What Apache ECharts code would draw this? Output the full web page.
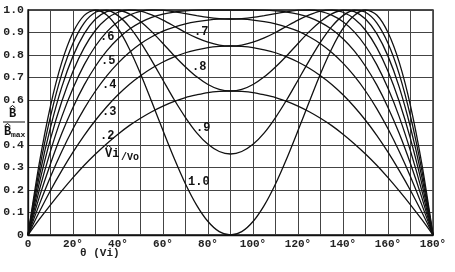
<!DOCTYPE html>
<html>
<head>
<meta charset="utf-8">
<script src="https://cdn.jsdelivr.net/npm/echarts@6/dist/echarts.min.js"></script>
<style>
html,body{margin:0;padding:0;background:#fff;}
#c{width:455px;height:272px;}
</style>
</head>
<body>
<div id="c"></div>
<script>
// theta in degrees (V_i phase)
var thetas = [0,5,10,15,20,25,30,35,40,45,50,55,60,65,70,75,80,85,90,95,100,105,110,115,120,125,130,135,140,145,150,155,160,165,170,175,180];
// B / Bmax for each Vi/Vo ratio
var k02 = [0,.069,.134,.196,.255,.310,.360,.406,.448,.486,.519,.548,.573,.594,.611,.623,.633,.638,.640,.638,.633,.623,.611,.594,.573,.548,.519,.486,.448,.406,.360,.310,.255,.196,.134,.069,0];
var k03 = [0,.102,.198,.286,.368,.443,.510,.570,.623,.669,.708,.741,.769,.792,.810,.823,.833,.838,.840,.838,.833,.823,.810,.792,.769,.741,.708,.669,.623,.570,.510,.443,.368,.286,.198,.102,0];
var k04 = [0,.135,.259,.371,.472,.562,.640,.707,.764,.811,.850,.881,.906,.924,.938,.948,.955,.959,.960,.959,.955,.948,.938,.924,.906,.881,.850,.811,.764,.707,.640,.562,.472,.371,.259,.135,0];
var k05 = [0,.167,.317,.451,.567,.667,.750,.818,.872,.914,.945,.967,.982,.991,.996,.999,1,1,1,1,1,.999,.996,.991,.982,.967,.945,.914,.872,.818,.750,.667,.567,.451,.317,.167,0];
var k06 = [0,.198,.373,.525,.652,.757,.840,.903,.948,.977,.994,1,.999,.992,.984,.975,.967,.962,.960,.962,.967,.975,.984,.992,.999,1,.994,.977,.948,.903,.840,.757,.652,.525,.373,.198,0];
var k07 = [0,.229,.427,.593,.728,.833,.910,.961,.990,1,.995,.978,.955,.928,.900,.876,.857,.844,.840,.844,.857,.876,.900,.928,.955,.978,.995,1,.990,.961,.910,.833,.728,.593,.427,.229,0];
var k08 = [0,.260,.478,.657,.795,.895,.960,.993,.999,.983,.949,.904,.851,.797,.747,.703,.669,.647,.640,.647,.669,.703,.747,.797,.851,.904,.949,.983,.999,.993,.960,.895,.795,.657,.478,.260,0];
var k09 = [0,.289,.527,.715,.852,.943,.990,.999,.975,.926,.857,.775,.688,.601,.522,.454,.403,.371,.360,.371,.403,.454,.522,.601,.688,.775,.857,.926,.975,.999,.990,.943,.852,.715,.527,.289,0];
var k10 = [0,.318,.574,.767,.900,.976,1,.978,.918,.828,.717,.592,.464,.340,.227,.132,.060,.015,0,.015,.060,.132,.227,.340,.464,.592,.717,.828,.918,.976,1,.978,.900,.767,.574,.318,0];
var ratios = ['.2','.3','.4','.5','.6','.7','.8','.9','1.0'];
var curves = [k02,k03,k04,k05,k06,k07,k08,k09,k10];
var yTickLabels = {0:'0',0.1:'0.1',0.2:'0.2',0.3:'0.3',0.4:'0.4',0.5:'',0.6:'0.6',0.7:'0.7',0.8:'0.8',0.9:'0.9',1:'1.0'};

var chart = echarts.init(document.getElementById('c'), null, {renderer:'canvas'});
var mono = 'Liberation Mono';
var series = curves.map(function(vals, i){
  return {
    name: ratios[i], type:'line', smooth:0.3, symbol:'none', clip:true,
    lineStyle:{color:'#111', width:1.3},
    data: thetas.map(function(t, j){ return [t, vals[j]]; })
  };
});
var labelStyle = {fill:'#111', font:'bold 12px "Liberation Mono"'};
function lbl(x,y,t){ return {type:'text', left:x, top:y, style:Object.assign({text:t}, labelStyle), z:10}; }
function hat(x,y){ return {type:'polyline', z:10, shape:{points:[[x,y+2.5],[x+3,y],[x+6,y+2.5]]}, style:{stroke:'#111', lineWidth:1, fill:null}}; }
chart.setOption({
  animation:false,
  grid:{left:28, top:10, right:22, bottom:37, show:true, borderColor:'#111', borderWidth:1.3},
  xAxis:{type:'value', min:0, max:180, interval:10,
    axisLine:{show:true, lineStyle:{color:'#111', width:1.3}}, axisTick:{show:false},
    axisLabel:{color:'#222', fontFamily:mono, fontSize:11, fontWeight:'bold', margin:4,
      formatter:function(v){ if(v%20!==0) return ''; return v===0?'0':v+'°'; }},
    splitLine:{show:true, lineStyle:{color:'#444', width:1}}},
  yAxis:{type:'value', min:0, max:1, interval:0.1,
    axisLine:{show:true, lineStyle:{color:'#111', width:1.3}}, axisTick:{show:false},
    axisLabel:{color:'#222', fontFamily:mono, fontSize:11.5, fontWeight:'bold', margin:4,
      formatter:function(v){ var r=Math.round(v*10)/10; return yTickLabels[r]!==undefined?yTickLabels[r]:''; }},
    splitLine:{show:true, lineStyle:{color:'#444', width:1}}},
  series: series,
  graphic:[
    lbl(100,31,'.6'), lbl(101,55,'.5'), lbl(102,79,'.4'), lbl(102,106,'.3'), lbl(100,130,'.2'),
    lbl(194,26,'.7'), lbl(192,61,'.8'), lbl(196,122,'.9'), lbl(188,176,'1.0'),
    {type:'text', left:105, top:148, z:10, style:{text:'Vi', fill:'#111', font:'bold 12px "Liberation Mono"'}},
    hat(105.5,145.5),
    {type:'text', left:121, top:152, z:10, style:{text:'/Vo', fill:'#111', font:'bold 10px "Liberation Mono"'}},
    {type:'text', left:9, top:108, z:10, style:{text:'B', fill:'#111', font:'bold 12px "Liberation Mono"'}},
    hat(9.5,105.5),
    {type:'line', z:10, shape:{x1:3, y1:122, x2:25, y2:122}, style:{stroke:'#111', lineWidth:1}},
    {type:'text', left:4, top:126, z:10, style:{text:'B', fill:'#111', font:'bold 12px "Liberation Mono"'}},
    hat(4.5,123.5),
    {type:'text', left:11, top:131, z:10, style:{text:'max', fill:'#111', font:'bold 8px "Liberation Mono"'}},
    {type:'text', left:80, top:248, z:10, style:{text:'θ (Vi)', fill:'#222', font:'bold 11px "Liberation Mono"'}}
  ]
});
</script>
</body>
</html>
